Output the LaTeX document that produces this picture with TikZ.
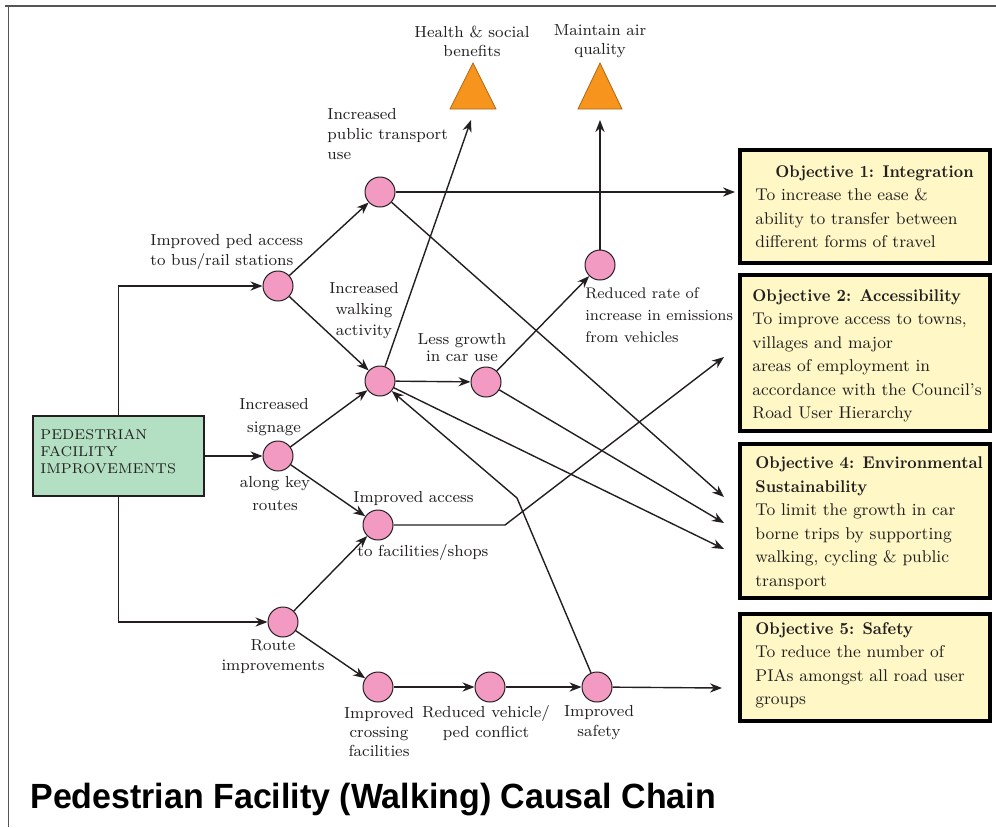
\documentclass[tikz,border=0pt]{standalone}
\usepackage{fontspec}
\usepackage{graphicx}
\newfontfamily\titlefont{Liberation Sans}
\usetikzlibrary{arrows.meta}

\definecolor{pinkfill}{HTML}{F39AC3}
\definecolor{greenfill}{HTML}{B3DFC3}
\definecolor{yellowfill}{HTML}{FFF8C6}
\definecolor{orangefill}{HTML}{F7941D}
\definecolor{ink}{HTML}{231F20}
\definecolor{framegray}{HTML}{555555}

% bold heading of an objective box, set slightly narrow
\newcommand\objhead[1]{\scalebox{0.93}[1]{\textbf{#1}}}

\begin{document}
\begin{tikzpicture}[x=0.5pt,y=-0.5pt,
  event/.style={circle, draw=ink, line width=0.5pt, fill=pinkfill, minimum size=15pt, inner sep=0pt},
  link/.style={draw=ink, line width=0.7pt},
  arr/.style={link, -{Stealth[length=6pt,width=4.6pt]}},
  lbl/.style={font=\fontsize{8}{10}\selectfont, inner sep=0pt, text=ink},
  objbox/.style={draw=black, line width=2pt, fill=yellowfill, minimum width=125pt, inner sep=0pt},
  objtext/.style={font=\fontsize{8.5}{11.75}\selectfont, align=left, inner sep=0pt, anchor=west, text=ink},
  goal/.style={fill=orangefill, draw=orangefill!70!black, line width=0.4pt},
]
\useasboundingbox (0,0) rectangle (996,827);

% outer frame (top and left edges)
\draw[framegray, line width=1.2pt] (5,6) -- (996,6);
\draw[framegray, line width=0.5pt] (8,6) -- (8,827);

% start box
\node[draw=ink, line width=0.7pt, fill=greenfill, minimum width=85.5pt, minimum height=40pt, inner sep=0pt] (pfi) at (118.5,456) {};
\node[font=\fontsize{7.1}{8.5}\selectfont, align=left, anchor=west, inner sep=0pt, text=ink] (pfitxt) at (40,452) {PEDESTRIAN\\FACILITY\\IMPROVEMENTS};

% intermediate effects
\node[event] (A) at (278,286) {};
\node[event] (B) at (380,192) {};
\node[event] (C) at (380,381) {};
\node[event] (D) at (486,382) {};
\node[event] (E) at (600,265) {};
\node[event] (F) at (278,456) {};
\node[event] (G) at (378,525) {};
\node[event] (H) at (283,622) {};
\node[event] (I) at (378,687) {};
\node[event] (J) at (490,687) {};
\node[event] (K) at (597,687) {};

% outcome triangles
\draw[goal] (450,109) -- (473,63) -- (496,109) -- cycle;
\draw[goal] (578,109) -- (600,63) -- (622,109) -- cycle;
\coordinate (hs) at (471,120);
\coordinate (aq) at (600,120);

% objective boxes
\node[objbox, minimum height=56.5pt] (obj1) at (865,206.5) {};
\node[objbox, minimum height=78pt] (obj2) at (865,353) {};
\node[objbox, minimum height=77pt] (obj4) at (865,521) {};
\node[objbox, minimum height=53.5pt] (obj5) at (865,667.5) {};

\node[objtext] (obj1txt) at (755,206.5) {\hspace*{10pt}\objhead{Objective 1: Integration}\\To increase the ease \&\\ability to transfer between\\different forms of travel};
\node[objtext] (obj2txt) at (752,356) {\objhead{Objective 2: Accessibility}\\To improve access to towns,\\villages and major\\areas of employment in\\accordance with the Council's\\Road User Hierarchy};
\node[objtext] (obj4txt) at (755,523) {\objhead{Objective 4: Environmental}\\\objhead{Sustainability}\\To limit the growth in car\\borne trips by supporting\\walking, cycling \& public\\transport};
\node[objtext] (obj5txt) at (755,665.5) {\objhead{Objective 5: Safety}\\To reduce the number of\\PIAs amongst all road user\\groups};

% arrow ends at the objectives and bends
\coordinate (o1in) at (735,192);
\coordinate (o2in) at (724,357);
\coordinate (o4a) at (724,497);
\coordinate (o4b) at (724,523);
\coordinate (o4c) at (724,549);
\coordinate (o5in) at (722,688);
\coordinate (gbend) at (505,525);
\coordinate (kbend) at (517,498);

% connectors
\draw[arr] (pfi.north) |- (A);
\draw[arr] (pfi.east) -- (F);
\draw[arr] (pfi.south) |- (H);
\draw[arr] (A) -- (B);
\draw[arr] (A) -- (C);
\draw[arr] (F) -- (C);
\draw[arr] (F) -- (G);
\draw[arr] (H) -- (G);
\draw[arr] (H) -- (I);
\draw[arr] (I) -- (J);
\draw[arr] (J) -- (K);
\draw[arr] (K) -- (o5in);
\draw[arr] (C) -- (D);
\draw[arr] (D) -- (E);
\draw[arr] (E) -- (aq);
\draw[arr] (C) -- (hs);
\draw[arr] (B) -- (o1in);
\draw[arr] (B) -- (o4a);
\draw[arr] (D) -- (o4b);
\draw[arr] (C) -- (o4c);
\draw[arr] (G) -- (gbend) -- (o2in);
\draw[arr] (K) -- (kbend) -- (C);

% labels
\node[lbl, align=left, anchor=west] (lA) at (150,252) {Improved ped access\\to bus/rail stations};
\node[lbl, align=left, anchor=west] (lB) at (327,134) {Increased\\public transport\\use};
\node[lbl, align=center, font=\fontsize{8}{10.5}\selectfont] (lC) at (364,311) {Increased\\walking\\activity};
\node[lbl, align=center, font=\fontsize{8}{8.5}\selectfont] (lD) at (462,348) {Less growth\\in car use};
\node[lbl, align=left, anchor=west, font=\fontsize{7.7}{11}\selectfont] (lE) at (585,315) {Reduced rate of\\increase in emissions\\from vehicles};
\node[lbl, align=center, font=\fontsize{8}{11.5}\selectfont] (lF1) at (274,417) {Increased\\signage};
\node[lbl, align=center, font=\fontsize{8}{11.5}\selectfont] (lF2) at (275,494) {along key\\routes};
\node[lbl, anchor=west] (lG1) at (353,498) {Improved access};
\node[lbl, anchor=west] (lG2) at (357,552) {to facilities/shops};
\node[lbl, align=center] (lH) at (273,657) {Route\\improvements};
\node[lbl, align=center, font=\fontsize{8}{9.5}\selectfont] (lI) at (379,732) {Improved\\crossing\\facilities};
\node[lbl, align=center] (lJ) at (486,723) {Reduced vehicle/\\ped conflict};
\node[lbl, align=center] (lK) at (599,723) {Improved\\safety};
\node[lbl, align=center, font=\fontsize{8}{9.5}\selectfont] (lhs) at (472,41.5) {Health \& social\\benefits};
\node[lbl, align=center, font=\fontsize{8}{9.5}\selectfont] (laq) at (600,41.5) {Maintain air\\quality};

% title
\node[anchor=base west, inner sep=0pt, font=\titlefont\bfseries\fontsize{17.5}{20}\selectfont] (title) at (30,808) {\scalebox{0.97}[1]{Pedestrian Facility (Walking) Causal Chain}};
\end{tikzpicture}
\end{document}
